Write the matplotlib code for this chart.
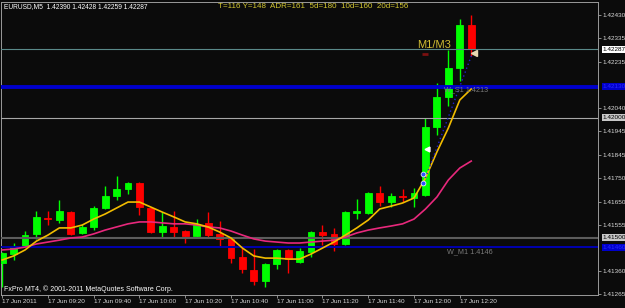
"""EURUSD M5 candlestick chart, MT4 style"""
import matplotlib
matplotlib.use("Agg")
import matplotlib.pyplot as plt
import matplotlib.transforms as mtrans
import numpy as np

# ---- data (17 Jun 2011, 09:00 .. 12:25, 5 min bars) ----
opens = [1.41394, 1.41432, 1.41465, 1.41516, 1.41582, 1.41574, 1.41607, 1.41520, 1.41545, 1.41624,
         1.41674, 1.41703, 1.41729, 1.41624, 1.41524, 1.41545, 1.41528, 1.41507, 1.41562, 1.41516,
         1.41495, 1.41420, 1.41365, 1.41319, 1.41390, 1.41449, 1.41399, 1.41440, 1.41524, 1.41516,
         1.41474, 1.41603, 1.41603, 1.41687, 1.41649, 1.41674, 1.41666, 1.41678, 1.41962, 1.42088,
         1.42209, 1.42390]
highs = [1.41440, 1.41478, 1.41528, 1.41612, 1.41612, 1.41658, 1.41612, 1.41558, 1.41632, 1.41716,
         1.41758, 1.41733, 1.41733, 1.41628, 1.41607, 1.41612, 1.41532, 1.41578, 1.41607, 1.41570,
         1.41499, 1.41465, 1.41453, 1.41394, 1.41453, 1.41453, 1.41457, 1.41528, 1.41553, 1.41541,
         1.41612, 1.41662, 1.41691, 1.41716, 1.41687, 1.41703, 1.41708, 1.42000, 1.42146, 1.42284,
         1.42413, 1.42428]
lows = [1.41294, 1.41407, 1.41461, 1.41495, 1.41553, 1.41562, 1.41511, 1.41516, 1.41532, 1.41620,
        1.41658, 1.41683, 1.41595, 1.41520, 1.41499, 1.41499, 1.41478, 1.41503, 1.41499, 1.41465,
        1.41394, 1.41353, 1.41303, 1.41294, 1.41369, 1.41353, 1.41394, 1.41420, 1.41470, 1.41445,
        1.41470, 1.41578, 1.41599, 1.41632, 1.41628, 1.41649, 1.41628, 1.41674, 1.41929, 1.42050,
        1.42154, 1.42259]
closes = [1.41436, 1.41461, 1.41511, 1.41587, 1.41578, 1.41612, 1.41516, 1.41545, 1.41624, 1.41674,
          1.41703, 1.41729, 1.41628, 1.41524, 1.41549, 1.41524, 1.41507, 1.41558, 1.41511, 1.41495,
          1.41415, 1.41369, 1.41319, 1.41390, 1.41449, 1.41411, 1.41445, 1.41524, 1.41511, 1.41474,
          1.41607, 1.41612, 1.41687, 1.41649, 1.41674, 1.41670, 1.41687, 1.41962, 1.42088, 1.42209,
          1.42390, 1.42287]

ma_fast = [1.41407, 1.41424, 1.41449, 1.41486, 1.41511, 1.41541, 1.41541, 1.41553, 1.41578, 1.41599,
           1.41624, 1.41649, 1.41649, 1.41628, 1.41607, 1.41587, 1.41566, 1.41558, 1.41545, 1.41524,
           1.41499, 1.41457, 1.41424, 1.41415, 1.41415, 1.41411, 1.41411, 1.41432, 1.41457, 1.41482,
           1.41511, 1.41541, 1.41574, 1.41620, 1.41632, 1.41645, 1.41666, 1.41749, 1.41858, 1.41958,
           1.42075, 1.42121]
ma_slow = [1.41449, 1.41453, 1.41461, 1.41474, 1.41482, 1.41490, 1.41499, 1.41503, 1.41516, 1.41532,
           1.41545, 1.41558, 1.41566, 1.41566, 1.41562, 1.41558, 1.41558, 1.41553, 1.41545, 1.41541,
           1.41528, 1.41511, 1.41495, 1.41486, 1.41482, 1.41478, 1.41478, 1.41482, 1.41486, 1.41490,
           1.41503, 1.41520, 1.41532, 1.41541, 1.41549, 1.41558, 1.41578, 1.41620, 1.41670, 1.41741,
           1.41791, 1.41820]

x_ticks = [0, 4, 8, 12, 16, 20, 24, 28, 32, 36, 40]
x_labels = ["17 Jun 2011", "17 Jun 09:20", "17 Jun 09:40", "17 Jun 10:00", "17 Jun 10:20",
            "17 Jun 10:40", "17 Jun 11:00", "17 Jun 11:20", "17 Jun 11:40", "17 Jun 12:00",
            "17 Jun 12:20"]
y_ticks = [1.42430, 1.42335, 1.42235, 1.42040, 1.41945, 1.41845, 1.41750, 1.41650, 1.41555,
           1.41360, 1.41265]

bid = 1.42287
w_s1 = 1.4213
w_m1 = 1.4146
round_hi = 1.42000
round_lo = 1.41500
trade_x = [37, 41.1]
trade_y = [1.41749, 1.42271]

BG = "#0b0b0b"
FG = "#d8d8d8"
FONT = "Liberation Sans"

fig = plt.figure(figsize=(6.25, 3.08), dpi=100, facecolor=BG)
ax = fig.add_axes([1 / 625, 13 / 308, 597 / 625, 293 / 308], facecolor=BG)

x = np.arange(len(opens))
o, h, l, c = map(np.array, (opens, highs, lows, closes))
cols = np.where(c >= o, "#00ff00", "#ff0000")

ax.vlines(x, l, h, colors=cols, linewidth=1, zorder=2)
ax.bar(x, np.abs(c - o), bottom=np.minimum(o, c), width=0.6, color=cols,
       edgecolor=cols, linewidth=0.6, zorder=3)

# levels
ax.axhline(bid, color="#5a8a8a", linewidth=0.8, zorder=4)
ax.axhline(w_s1, color="#0000cc", linewidth=2.8, zorder=4)
ax.axhline(round_hi, color="#a8a8a8", linewidth=0.8, zorder=4)
ax.axhline(round_lo, color="#5c5c5c", linewidth=1.5, zorder=4)
ax.axhline(w_m1, color="#0000b0", linewidth=1.4, zorder=4)

ax.plot(x, ma_slow, color="#e8287c", linewidth=1.2, zorder=5)
ax.plot(x, ma_fast, color="#f2bc00", linewidth=1.2, zorder=6)

# trade markers
ax.plot(trade_x, trade_y, color="#2020d0", linestyle=(0, (1, 2)), linewidth=1, zorder=6)
ax.plot([36.8, 36.8], [1.41766, 1.41729], linestyle="none", marker="o", markersize=3.5,
        markerfacecolor="#3050ff", markeredgecolor="white", markeredgewidth=0.5, zorder=7)
ax.plot([37.1], [1.41870], marker="<", markersize=3.5, color="white", zorder=7)
ax.plot([41.2], [1.42271], marker="<", markersize=4, color="#e8d8b0", zorder=7)
ax.plot([36.95], [1.42267], marker="_", markersize=5, markeredgewidth=2, color="#7a1010", zorder=7)

ax.text(36.3, 1.42292, "M1/M3", color="#d2be32", fontsize=8, family=FONT,
        va="baseline", ha="left", zorder=8)
ax.text(38.6, w_s1 - 0.00013, "W_S1 1.4213", color="#7a7a7a", fontsize=5.2, family=FONT,
        va="center", ha="left", zorder=8)
ax.text(38.9, w_m1 - 0.00017, "W_M1 1.4146", color="#7a7a7a", fontsize=5.2, family=FONT,
        va="center", ha="left", zorder=8)

ax.set_xlim(-0.1, 52.08)
ax.set_ylim(1.41261, 1.42484)

ax.yaxis.tick_right()
ax.set_yticks(y_ticks)
ax.set_yticklabels([f"{v:.5f}" for v in y_ticks])
ax.set_xticks(x_ticks)
ax.set_xticklabels(x_labels, ha="left")
ax.tick_params(axis="both", colors="#a0a0a0", labelcolor=FG, labelsize=4.6,
               length=2, width=0.6, pad=1)
for lab in ax.get_xticklabels() + ax.get_yticklabels():
    lab.set_family(FONT)
for s in ax.spines.values():
    s.set_color("#9a9a9a")
    s.set_linewidth(0.7)

# price boxes on the axis
tr = mtrans.blended_transform_factory(ax.transAxes, ax.transData)
for val, txt, fc, tc in [(bid, "1.42287", "white", "black"),
                         (w_s1, "1.42130", "#0000cc", "#2a2aff"),
                         (round_hi, "1.42000", "#c8c8c8", "black"),
                         (round_lo, "1.41500", "#c8c8c8", "black"),
                         (w_m1, "1.41460", "#0000cc", "#2a2aff")]:
    ax.text(1.008, val, txt, transform=tr, fontsize=4.6, family=FONT, color=tc,
            va="center", ha="left", clip_on=False, zorder=9,
            bbox=dict(boxstyle="square,pad=0.15", facecolor=fc, edgecolor="none"))

fig.text(4 / 625, 1 - 6.5 / 308, "EURUSD,M5  1.42390 1.42428 1.42259 1.42287",
         color="white", fontsize=4.8, family=FONT, va="center", ha="left")
fig.text(218 / 625, 1 - 7 / 308, "T=116 Y=148  ADR=161  5d=180  10d=160  20d=156",
         color="#d4c832", fontsize=5.8, family=FONT, va="center", ha="left")
fig.text(4 / 625, 1 - 289 / 308, "FxPro MT4, \u00a9 2001-2011 MetaQuotes Software Corp.",
         color="white", fontsize=5.0, family=FONT, va="center", ha="left")

plt.savefig("out.png", dpi=100, facecolor=BG)
plt.close()
print("[DONE] out.png")
